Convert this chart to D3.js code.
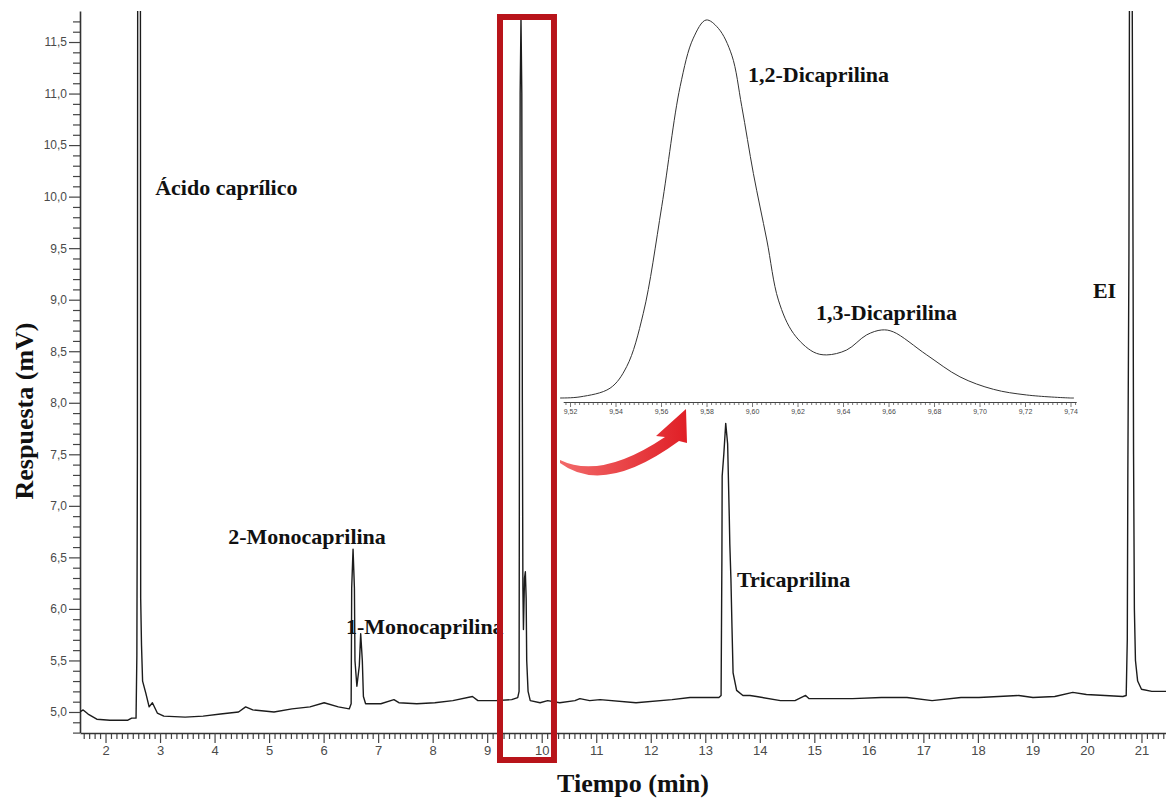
<!DOCTYPE html>
<html>
<head>
<meta charset="utf-8">
<script src="https://cdn.jsdelivr.net/npm/d3@7"></script>
<style>
  body { margin: 0; background: #fff; }
  svg { display: block; }
  .tick text { font-family: 'Liberation Sans', Arial, sans-serif; fill: #4a4a4a; }
  .peak-label { font-family: 'Liberation Serif', 'Times New Roman', serif; font-weight: bold; fill: #111; }
  .axis-title { font-family: 'Liberation Serif', 'Times New Roman', serif; font-weight: bold; fill: #111; }
</style>
</head>
<body>
<svg id="chart" width="1166" height="799"></svg>
<script>
// chromatogram (min, mV)
const timeMin = [
  1.53, 1.59, 1.68, 1.84, 2.08, 2.41, 2.48, 2.56, 2.575, 2.585, 2.59, 2.61, 2.64, 2.645, 2.66, 2.68,
  2.74, 2.80, 2.86, 2.95, 3.07, 3.46, 3.79, 4.11, 4.44, 4.57, 4.70, 5.09, 5.42, 5.75, 6.01, 6.27,
  6.47, 6.505, 6.515, 6.54, 6.565, 6.575, 6.61, 6.655, 6.68, 6.71, 6.73, 6.77, 7.05, 7.29, 7.38, 7.71,
  8.04, 8.37, 8.73, 8.83, 9.16, 9.45, 9.56, 9.585, 9.595, 9.605, 9.62, 9.635, 9.645, 9.655, 9.665, 9.685,
  9.70, 9.715, 9.725, 9.75, 9.79, 9.97, 10.11, 10.33, 10.61, 10.70, 10.88, 11.07, 11.73, 12.39, 12.72, 13.25,
  13.29, 13.305, 13.31, 13.34, 13.375, 13.41, 13.44, 13.45, 13.47, 13.49, 13.51, 13.575, 13.69, 13.82, 13.94, 14.38,
  14.645, 14.84, 14.90, 15.70, 16.23, 16.70, 17.16, 17.69, 18.02, 18.75, 19.01, 19.41, 19.74, 19.99, 20.33, 20.66,
  20.72, 20.74, 20.75, 20.77, 20.78, 20.80, 20.83, 20.845, 20.855, 20.87, 20.89, 20.93, 21.0, 21.19, 21.45
];
const responseMv = [
  5.00, 5.02, 4.98, 4.93, 4.92, 4.92, 4.94, 4.94, 5.55, 7.5, 12.0, 12.8, 12.0, 6.1, 5.65, 5.3,
  5.18, 5.05, 5.09, 4.99, 4.96, 4.95, 4.96, 4.98, 5.00, 5.05, 5.02, 5.00, 5.03, 5.05, 5.09, 5.05,
  5.03, 5.08, 6.2, 6.58, 6.2, 5.5, 5.25, 5.45, 5.76, 5.5, 5.15, 5.08, 5.08, 5.12, 5.09, 5.08,
  5.09, 5.11, 5.15, 5.11, 5.11, 5.12, 5.14, 5.2, 8.9, 11.0, 11.72, 11.0, 8.0, 6.2, 5.8, 6.3,
  6.36, 6.1, 5.5, 5.2, 5.11, 5.09, 5.11, 5.09, 5.11, 5.13, 5.11, 5.12, 5.09, 5.12, 5.14, 5.14,
  5.16, 6.5, 7.29, 7.5, 7.80, 7.6, 6.9, 6.63, 6.3, 5.82, 5.38, 5.21, 5.16, 5.16, 5.15, 5.11,
  5.11, 5.16, 5.13, 5.13, 5.14, 5.14, 5.11, 5.14, 5.14, 5.16, 5.14, 5.15, 5.19, 5.17, 5.16, 5.15,
  5.16, 5.7, 7.3, 9.4, 12.0, 12.8, 12.0, 9.5, 7.5, 6.0, 5.5, 5.3, 5.22, 5.2, 5.2
];

// inset: detail of the 1,2 / 1,3 dicaprilina pair (min, relative signal)
const insetTimeMin = [
  9.5156, 9.5244, 9.5376, 9.5449, 9.5522, 9.5603, 9.5684, 9.5742, 9.5798, 9.5852, 9.5911, 9.5955,
  9.6006, 9.6065, 9.6116, 9.6182, 9.6269, 9.6328, 9.6416, 9.6504, 9.6570, 9.6621, 9.6768, 9.6914,
  9.7061, 9.7207, 9.7400, 9.7415
];
const insetSignal = [
  0, 0.3, 2.6, 8.3, 22.4, 50.6, 82.4, 95.2, 100, 97.8, 90.7, 77.1,
  59.4, 41.8, 25.9, 17.1, 12.2, 11.4, 12.7, 16.7, 18.0, 17.5, 11.4, 5.6,
  2.3, 0.8, 0, 0
];

const yTickValues = [5.0, 5.5, 6.0, 6.5, 7.0, 7.5, 8.0, 8.5, 9.0, 9.5, 10.0, 10.5, 11.0, 11.5];
const xTickValues = [2, 3, 4, 5, 6, 7, 8, 9, 10, 11, 12, 13, 14, 15, 16, 17, 18, 19, 20, 21];
const insetTickValues = [9.52, 9.54, 9.56, 9.58, 9.60, 9.62, 9.64, 9.66, 9.68, 9.70, 9.72, 9.74];

const peakNames = ['Ácido caprílico', '2-Monocaprilina', '1-Monocaprilina', 'Tricaprilina', 'EI'];
const peakLabelAt = [[2.91, 10.02], [4.25, 6.63], [6.41, 5.76], [13.58, 6.21], [20.11, 9.02]];
const insetNames = ['1,2-Dicaprilina', '1,3-Dicaprilina'];
const insetLabelAt = [[9.5982, 83.6], [9.6281, 20.6]];
const zoomWindow = [9.235, 10.225];

const commaFormat = fmt => d => d3.format(fmt)(d).replace('.', ',');

const svg = d3.select('#chart');

const x = d3.scaleLinear().domain([1.532, 21.45]).range([80, 1166]);
const y = d3.scaleLinear().domain([4.8, 11.8]).range([732.6, 11.1]);

svg
  .append('defs')
  .append('clipPath')
  .attr('id', 'plot-clip')
  .append('rect')
  .attr('x', 80)
  .attr('y', 11)
  .attr('width', 1086)
  .attr('height', 722)
  ;

// y axis: minor every 0,1 and labelled every 0,5
const yMinor = d3.range(48, 118).map(d => d / 10).filter(d => Math.round(d * 10) % 5 !== 0);

svg.append('g')
  .attr('transform', 'translate(80,0)')
  .call(d3.axisLeft(y).tickValues(yMinor).tickSize(7).tickSizeOuter(0).tickFormat(''))
  .call(g => g.select('.domain').remove())
  .call(g => g.selectAll('line').attr('stroke', '#444').attr('stroke-width', 1.2))
  ;

svg.append('g')
  .attr('transform', 'translate(80,0)')
  .call(d3.axisLeft(y).tickValues(yTickValues).tickSize(11).tickSizeOuter(0).tickPadding(2).tickFormat(commaFormat('.1f')))
  .call(g => g.select('.domain').attr('stroke', '#333').attr('stroke-width', 1.6))
  .call(g => g.selectAll('line').attr('stroke', '#444').attr('stroke-width', 1.2))
  .call(g => g.selectAll('text').attr('font-size', 12))
  ;

// x axis: minor every 0,1 min
const xMinor = d3.range(16, 215).map(d => d / 10).filter(d => Math.round(d * 10) % 10 !== 0);

svg.append('g')
  .attr('transform', 'translate(0,733)')
  .call(d3.axisBottom(x).tickValues(xMinor).tickSize(6).tickSizeOuter(0).tickFormat(''))
  .call(g => g.select('.domain').remove())
  .call(g => g.selectAll('line').attr('stroke', '#444').attr('stroke-width', 1.2))
  ;

svg.append('g')
  .attr('transform', 'translate(0,733)')
  .call(d3.axisBottom(x).tickValues(xTickValues).tickSize(10).tickSizeOuter(0).tickPadding(3).tickFormat(d3.format('d')))
  .call(g => g.select('.domain').attr('stroke', '#333').attr('stroke-width', 1.6))
  .call(g => g.selectAll('line').attr('stroke', '#444').attr('stroke-width', 1.2))
  .call(g => g.selectAll('text').attr('font-size', 13))
  ;

const line = d3.line()
  .x(i => x(timeMin[i]))
  .y(i => y(responseMv[i]))
  ;

svg.append('path')
  .datum(d3.range(timeMin.length))
  .attr('clip-path', 'url(#plot-clip)')
  .attr('d', line)
  .attr('fill', 'none')
  .attr('stroke', '#1c1c1c')
  .attr('stroke-width', 1.4)
  .attr('stroke-linejoin', 'round')
  ;

svg.append('g')
  .selectAll('text')
  .data(peakNames)
  .join('text')
  .attr('class', 'peak-label')
  .attr('x', (d, i) => x(peakLabelAt[i][0]))
  .attr('y', (d, i) => y(peakLabelAt[i][1]))
  .attr('font-size', 22)
  .text(d => d)
  ;

// red box around the zoomed window
svg.append('rect')
  .attr('x', x(zoomWindow[0]))
  .attr('y', 17)
  .attr('width', x(zoomWindow[1]) - x(zoomWindow[0]))
  .attr('height', 743)
  .attr('fill', 'none')
  .attr('stroke', '#b8141a')
  .attr('stroke-width', 6)
  ;

// inset
const ix = d3.scaleLinear().domain([9.517, 9.7425]).range([563.2, 1076.2]);
const iy = d3.scaleLinear().domain([0, 100]).range([398, 20]);
const insetMinor = d3.range(4759, 4872).map(d => d / 500).filter(d => Math.round(d * 500) % 10 !== 0);

svg.append('g')
  .attr('transform', 'translate(0,402)')
  .call(d3.axisBottom(ix).tickValues(insetMinor).tickSize(3).tickSizeOuter(0).tickFormat(''))
  .call(g => g.select('.domain').remove())
  .call(g => g.selectAll('line').attr('stroke', '#555').attr('stroke-width', 0.8))
  ;

svg.append('g')
  .attr('transform', 'translate(0,402)')
  .call(d3.axisBottom(ix).tickValues(insetTickValues).tickSize(5).tickSizeOuter(0).tickPadding(2).tickFormat(commaFormat('.2f')))
  .call(g => g.select('.domain').attr('stroke', '#444').attr('stroke-width', 1))
  .call(g => g.selectAll('line').attr('stroke', '#555').attr('stroke-width', 0.8))
  .call(g => g.selectAll('text').attr('font-size', 7))
  ;

const insetLine = d3.line()
  .x(i => ix(insetTimeMin[i]))
  .y(i => iy(insetSignal[i]))
  .curve(d3.curveCatmullRom)
  ;

svg.append('path')
  .datum(d3.range(insetTimeMin.length))
  .attr('d', insetLine)
  .attr('fill', 'none')
  .attr('stroke', '#333')
  .attr('stroke-width', 1)
  ;

svg.append('g')
  .selectAll('text')
  .data(insetNames)
  .join('text')
  .attr('class', 'peak-label')
  .attr('x', (d, i) => ix(insetLabelAt[i][0]))
  .attr('y', (d, i) => iy(insetLabelAt[i][1]))
  .attr('font-size', 22)
  .text(d => d)
  ;

// curved arrow pointing at the inset
const grad = svg.select('defs')
  .append('linearGradient')
  .attr('id', 'arrow-grad')
  .attr('x1', '0%').attr('y1', '0%')
  .attr('x2', '100%').attr('y2', '0%')
  ;
grad.append('stop').attr('offset', '0%').attr('stop-color', '#f26a6a');
grad.append('stop').attr('offset', '100%').attr('stop-color', '#e01f26');

svg.append('path')
  .attr('d', 'M560,460 Q601,480 665,437 L656,436 L686,409 L687,443 L679,441 Q604,496 560,463 Z')
  .attr('fill', 'url(#arrow-grad)')
  ;

// axis titles
svg.append('text')
  .attr('class', 'axis-title')
  .attr('transform', 'translate(33,411) rotate(-90)')
  .attr('text-anchor', 'middle')
  .attr('font-size', 26)
  .text('Respuesta (mV)')
  ;

svg.append('text')
  .attr('class', 'axis-title')
  .attr('x', 633)
  .attr('y', 792)
  .attr('text-anchor', 'middle')
  .attr('font-size', 26)
  .text('Tiempo (min)')
  ;
</script>
</body>
</html>
